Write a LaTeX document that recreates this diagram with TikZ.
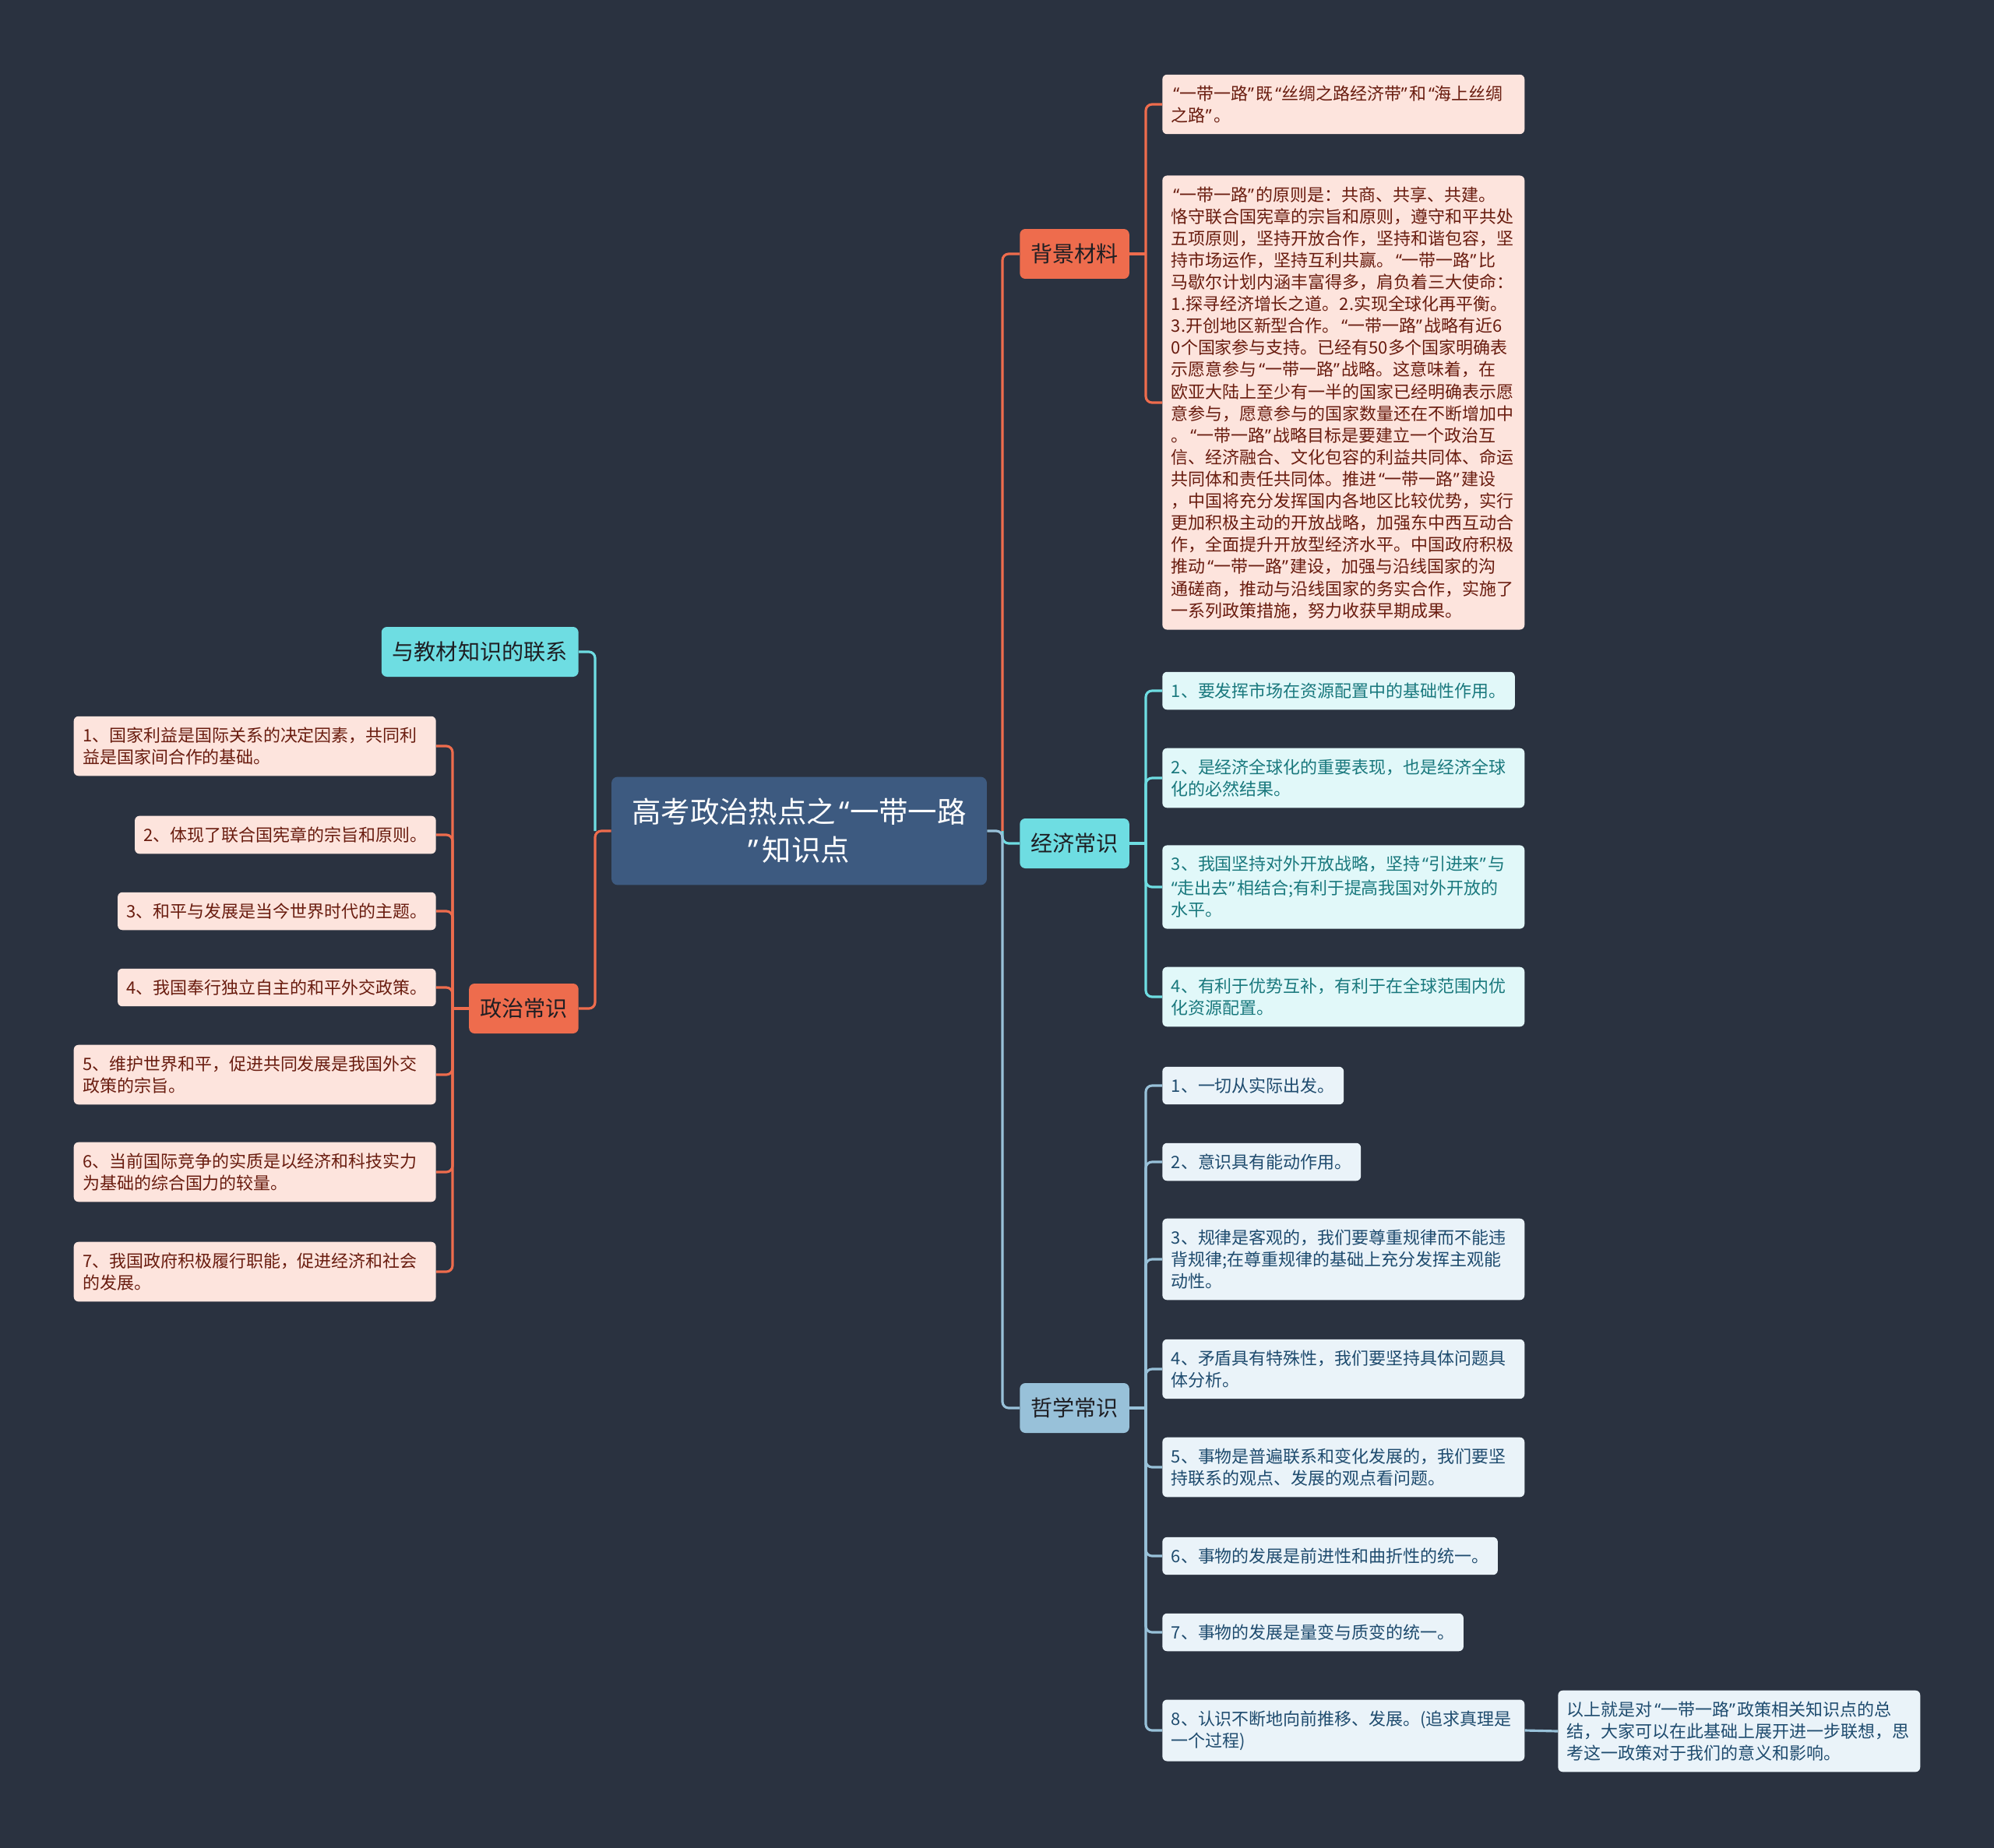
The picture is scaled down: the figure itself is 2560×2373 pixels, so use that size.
\documentclass[tikz,border=0pt]{standalone}
\usepackage{fontspec}
\setmainfont{Noto Sans CJK SC}
\newfontfamily\quotefont{Noto Sans}
\usepackage{xcolor}
\usepackage{tikz}
\usetikzlibrary{positioning}
\definecolor{bgnavy}{RGB}{42,50,64}
\definecolor{rootblue}{RGB}{61,90,128}
\definecolor{coral}{RGB}{238,108,77}
\definecolor{aqua}{RGB}{110,221,226}
\definecolor{skyblue}{RGB}{152,193,217}
\definecolor{coralleaf}{RGB}{253,228,221}
\definecolor{aqualeaf}{RGB}{225,248,249}
\definecolor{skyleaf}{RGB}{234,243,249}
\definecolor{coraltext}{RGB}{105,28,15}
\definecolor{aquatext}{RGB}{25,120,125}
\definecolor{skytext}{RGB}{30,75,110}
\definecolor{branchtext}{RGB}{30,30,35}
% narrow curly quotes, as in the original
\catcode`\“=13
\def“{\kern0.12em{\quotefont\char"201C}}
\catcode`\”=13
\def”{{\quotefont\char"201D}\kern0.12em}

\begin{document}
\begin{tikzpicture}[x=0.02cm, y=-0.02cm,
    root/.style={fill=rootblue, text=white, rounded corners=0.16cm, minimum width=9.64cm, minimum height=2.78cm, align=center, font=\fontsize{21.3}{28}\selectfont},
    branch/.style={rounded corners=0.14cm, inner xsep=0.28cm, inner ysep=0pt, minimum height=1.28cm, text=branchtext, font=\fontsize{16}{19}\selectfont},
    leaf/.style={rounded corners=0.12cm, inner xsep=0.23cm, inner ysep=0.28cm, align=left, font=\fontsize{12.5}{16}\selectfont},
    wide/.style={text width=8.84cm},
    polleaf/.style={leaf, fill=coralleaf, text=coraltext, anchor=east},
    bgleaf/.style={leaf, wide, fill=coralleaf, text=coraltext, anchor=west},
    ecoleaf/.style={leaf, fill=aqualeaf, text=aquatext, anchor=west},
    phileaf/.style={leaf, fill=skyleaf, text=skytext, anchor=west},
    link/.style={line width=1.8pt, rounded corners=0.16cm}
]
    \fill[bgnavy] (0,0) rectangle (2560,2373);
    \useasboundingbox (0,0) rectangle (2560,2373);

    % Centre topic
    \node[root] (root) at (1026,1067) {高考政治热点之“一带一路\\”知识点};

    % Main branches
    \node[branch, fill=coral, anchor=west] (bg) at (1309,326) {背景材料};
    \node[branch, fill=aqua, anchor=west] (eco) at (1309,1083) {经济常识};
    \node[branch, fill=skyblue, anchor=west] (phil) at (1309,1808) {哲学常识};
    \node[branch, fill=aqua, anchor=east] (book) at (743,837) {与教材知识的联系};
    \node[branch, fill=coral, anchor=east] (pol) at (743,1295) {政治常识};

    % Background material
    \node[bgleaf] (bg1) at (1492,134) {“一带一路”既“丝绸之路经济带”和“海上丝绸\\之路”。};
    \node[bgleaf] (bg2) at (1492,517) {“一带一路”的原则是：共商、共享、共建。\\恪守联合国宪章的宗旨和原则，遵守和平共处\\五项原则，坚持开放合作，坚持和谐包容，坚\\持市场运作，坚持互利共赢。“一带一路”比\\马歇尔计划内涵丰富得多，肩负着三大使命：\\1.探寻经济增长之道。2.实现全球化再平衡。\\3.开创地区新型合作。“一带一路”战略有近6\\0个国家参与支持。已经有50多个国家明确表\\示愿意参与“一带一路”战略。这意味着，在\\欧亚大陆上至少有一半的国家已经明确表示愿\\意参与，愿意参与的国家数量还在不断增加中\\。“一带一路”战略目标是要建立一个政治互\\信、经济融合、文化包容的利益共同体、命运\\共同体和责任共同体。推进“一带一路”建设\\，中国将充分发挥国内各地区比较优势，实行\\更加积极主动的开放战略，加强东中西互动合\\作，全面提升开放型经济水平。中国政府积极\\推动“一带一路”建设，加强与沿线国家的沟\\通磋商，推动与沿线国家的务实合作，实施了\\一系列政策措施，努力收获早期成果。};

    % Economics
    \node[ecoleaf] (eco1) at (1492,887) {1、要发挥市场在资源配置中的基础性作用。};
    \node[ecoleaf, wide] (eco2) at (1492,999) {2、是经济全球化的重要表现，也是经济全球\\化的必然结果。};
    \node[ecoleaf, wide] (eco3) at (1492,1139) {3、我国坚持对外开放战略，坚持“引进来”与\\“走出去”相结合;有利于提高我国对外开放的\\水平。};
    \node[ecoleaf, wide] (eco4) at (1492,1280) {4、有利于优势互补，有利于在全球范围内优\\化资源配置。};

    % Philosophy
    \node[phileaf] (phil1) at (1492,1394) {1、一切从实际出发。};
    \node[phileaf] (phil2) at (1492,1492) {2、意识具有能动作用。};
    \node[phileaf, wide] (phil3) at (1492,1617) {3、规律是客观的，我们要尊重规律而不能违\\背规律;在尊重规律的基础上充分发挥主观能\\动性。};
    \node[phileaf, wide] (phil4) at (1492,1758) {4、矛盾具有特殊性，我们要坚持具体问题具\\体分析。};
    \node[phileaf, wide] (phil5) at (1492,1884) {5、事物是普遍联系和变化发展的，我们要坚\\持联系的观点、发展的观点看问题。};
    \node[phileaf] (phil6) at (1492,1998) {6、事物的发展是前进性和曲折性的统一。};
    \node[phileaf] (phil7) at (1492,2096) {7、事物的发展是量变与质变的统一。};
    \node[phileaf, wide] (phil8) at (1492,2222) {8、认识不断地向前推移、发展。(追求真理是\\一个过程)};
    \node[phileaf, wide] (sum) at (2000,2223) {以上就是对“一带一路”政策相关知识点的总\\结，大家可以在此基础上展开进一步联想，思\\考这一政策对于我们的意义和影响。};

    % Politics
    \node[polleaf, wide] (pol1) at (560,958) {1、国家利益是国际关系的决定因素，共同利\\益是国家间合作的基础。};
    \node[polleaf] (pol2) at (560,1072) {2、体现了联合国宪章的宗旨和原则。};
    \node[polleaf] (pol3) at (560,1170) {3、和平与发展是当今世界时代的主题。};
    \node[polleaf] (pol4) at (560,1268) {4、我国奉行独立自主的和平外交政策。};
    \node[polleaf, wide] (pol5) at (560,1380) {5、维护世界和平，促进共同发展是我国外交\\政策的宗旨。};
    \node[polleaf, wide] (pol6) at (560,1505) {6、当前国际竞争的实质是以经济和科技实力\\为基础的综合国力的较量。};
    \node[polleaf, wide] (pol7) at (560,1633) {7、我国政府积极履行职能，促进经济和社会\\的发展。};

    % Junctions
    \coordinate (rj) at (1287,1067);
    \coordinate (lj) at (764,1067);
    \coordinate (bgj) at (1471,326);
    \coordinate (ecoj) at (1471,1083);
    \coordinate (philj) at (1471,1808);
    \coordinate (polj) at (581,1295);

    % Root to branches
    \draw[link, aqua] (rj) |- (eco.west);
    \draw[link, skyblue] (root.east) -- (rj) |- (phil.west);
    \draw[link, coral] (rj) |- (bg.west);
    \draw[link, coral] (root.west) -- (lj) |- (pol.east);
    \draw[link, aqua] (lj) |- (book.east);

    % Branches to leaves
    \draw[link, coral] (bg.east) -- (bgj);
    \foreach \n in {bg1,bg2} \draw[link, coral] (bgj) |- (\n.west);
    \draw[link, aqua] (eco.east) -- (ecoj);
    \foreach \n in {eco1,eco2,eco3,eco4} \draw[link, aqua] (ecoj) |- (\n.west);
    \draw[link, skyblue] (phil.east) -- (philj);
    \foreach \n in {phil1,phil2,phil3,phil4,phil5,phil6,phil7,phil8} \draw[link, skyblue] (philj) |- (\n.west);
    \draw[link, skyblue] (phil8.east) -- (sum.west);
    \draw[link, coral] (pol.west) -- (polj);
    \foreach \n in {pol1,pol2,pol3,pol4,pol5,pol6,pol7} \draw[link, coral] (polj) |- (\n.east);
\end{tikzpicture}
\end{document}
